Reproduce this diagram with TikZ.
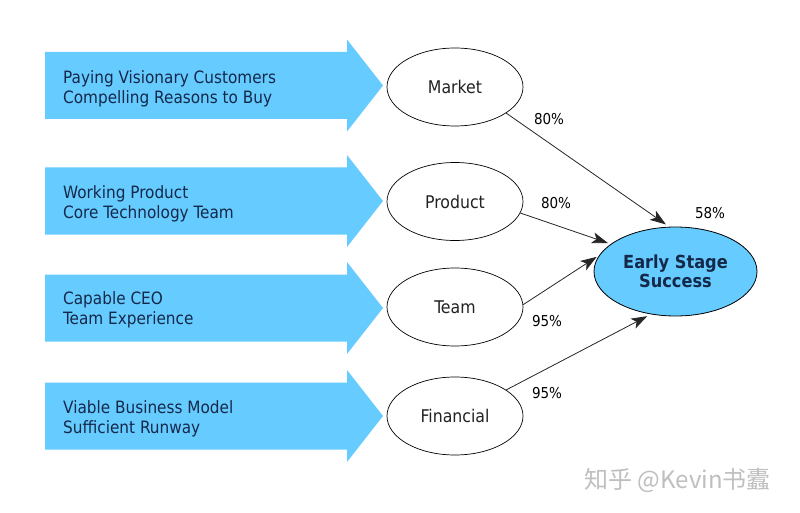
\documentclass[tikz,border=0pt]{standalone}
\usepackage{fontspec}
\setmainfont{DejaVu Sans Condensed}
\newfontfamily\cjkfont{Noto Sans CJK SC}
\usetikzlibrary{arrows.meta,shapes.geometric}
\definecolor{arrowblue}{HTML}{66CCFF}
\definecolor{navy}{HTML}{14284A}
\definecolor{inktext}{HTML}{222222}
\tikzset{
  x=1pt,y=-1pt,
  bigarrow/.style={fill=arrowblue,draw=none},
  arrowtext/.style={anchor=west,align=left,text=navy,font=\fontsize{17}{20}\selectfont,inner sep=0pt},
  factor/.style={ellipse,draw=black,line width=0.7pt,fill=white,minimum width=136pt,minimum height=78pt,inner sep=0pt,text=inktext,font=\fontsize{17.5}{20}\selectfont},
  goal/.style={ellipse,draw=black,line width=0.8pt,fill=arrowblue,minimum width=163pt,minimum height=89pt,inner sep=0pt,align=center,text=navy,font=\bfseries\fontsize{18}{19.5}\selectfont},
  link/.style={draw=black!85,line width=0.8pt,-{Stealth[length=16pt,width=11pt,inset=4pt]}},
  pct/.style={text=black,font=\fontsize{15}{16}\selectfont,inner sep=0pt}
}
\begin{document}
\begin{tikzpicture}
\useasboundingbox (0,0) rectangle (800,513);
\fill[white] (0,0) rectangle (800,513);
% big blue arrows
\foreach \c in {85.5,201,308,416}{
  \path[bigarrow] (45,\c-33.5) -- (347,\c-33.5) -- (347,\c-46) -- (383,\c) -- (347,\c+46) -- (347,\c+33.5) -- (45,\c+33.5) -- cycle;
}
\node[arrowtext] (t1) at (63,89) {Paying Visionary Customers\\Compelling Reasons to Buy};
\node[arrowtext] (t2) at (63,204) {Working Product\\Core Technology Team};
\node[arrowtext] (t3) at (63,310) {Capable CEO\\Team Experience};
\node[arrowtext] (t4) at (63,419) {Viable Business Model\\Sufficient Runway};
% factor ellipses
\node[factor] (m) at (455,87) {Market};
\node[factor] (p) at (455,201.5) {Product};
\node[factor] (t) at (455,307) {Team};
\node[factor] (f) at (455,416) {Financial};
% goal
\node[goal] (ess) at (675.5,271.5) {Early Stage\\Success};
% links
\draw[link,shorten >=4pt] (m.-27) -- (ess.98);
\draw[link,shorten >=3pt] (p.-10) -- (ess.157);
\draw[link,shorten >=3pt] (t.2) -- (ess.168);
\draw[link,shorten >=4pt] (f.27) -- (ess.240);
% percentages
\node[pct] (l1) at (549,119) {80\%};
\node[pct] (l2) at (556,203) {80\%};
\node[pct] (l3) at (710,213) {58\%};
\node[pct] (l4) at (547,321) {95\%};
\node[pct] (l5) at (547,393) {95\%};
% watermark
\node[text=black!25,font=\cjkfont\fontsize{24}{25}\selectfont,anchor=west,inner sep=0pt] (wm) at (584,480) {知乎 @Kevin书蠹};
\end{tikzpicture}
\end{document}
